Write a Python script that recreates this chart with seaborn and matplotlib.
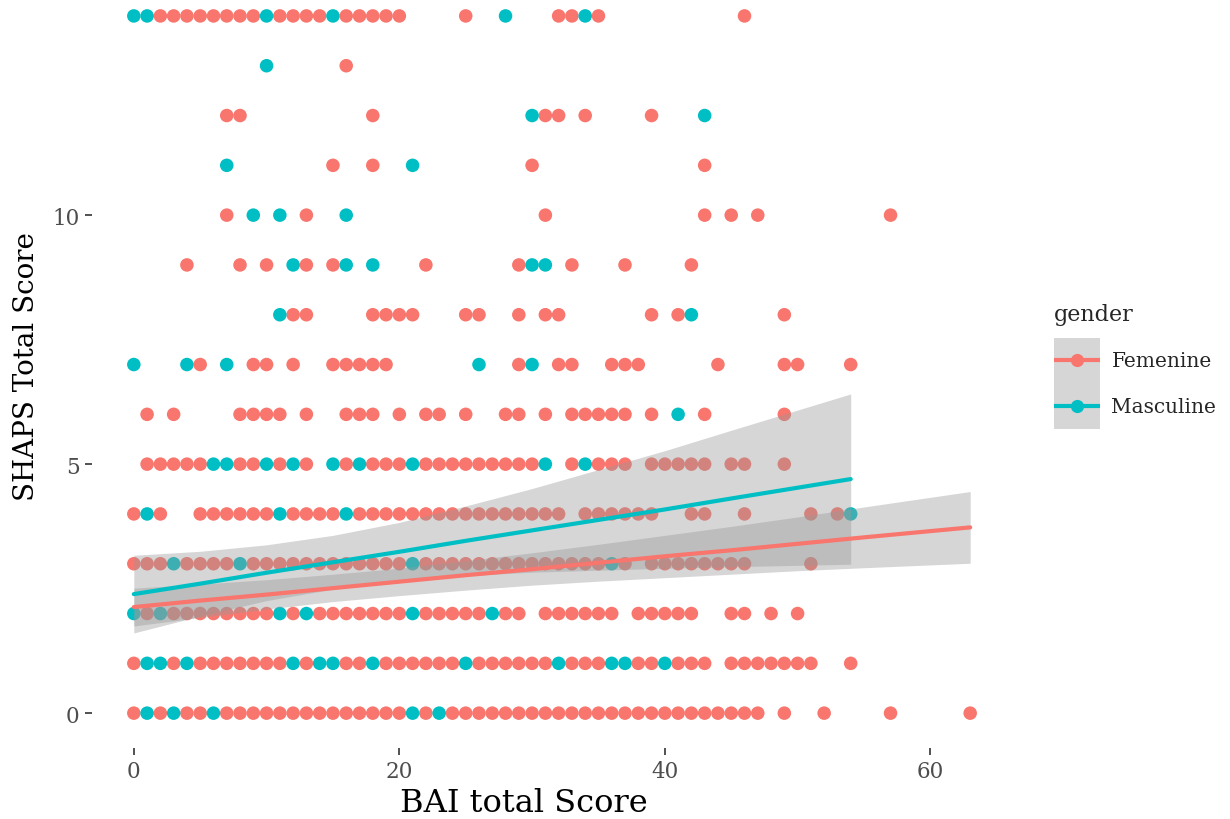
import matplotlib
matplotlib.use("Agg")
import matplotlib.pyplot as plt
import seaborn as sns
import pandas as pd
from matplotlib.lines import Line2D
from matplotlib.patches import Rectangle
from matplotlib.legend_handler import HandlerBase

# ---- data: BAI score (x) per SHAPS score row, by gender ----
F0 = [0, 2, 4, 5, 7, 8, 9, 10, 11, 12, 13, 14, 15, 16, 17, 18, 19, 20, 22, 24, 25, 26, 27, 28, 29, 30, 31, 32, 33, 34, 35, 36, 37, 38, 39, 40, 41, 42, 43, 44, 45, 46, 47, 49, 52, 57, 63]
M0 = [1, 3, 6, 21, 23]
F1 = [0, 3, 5, 6, 7, 8, 9, 10, 11, 13, 16, 17, 19, 20, 21, 22, 23, 24, 26, 27, 28, 29, 30, 31, 33, 34, 35, 38, 39, 41, 42, 43, 45, 46, 47, 48, 49, 50, 51, 54]
M1 = [1, 2, 4, 12, 14, 15, 18, 25, 32, 36, 37, 40]
F2 = [1, 3, 4, 5, 6, 7, 8, 9, 10, 12, 14, 15, 16, 17, 18, 19, 20, 22, 23, 24, 25, 26, 28, 29, 31, 32, 33, 34, 35, 36, 38, 39, 40, 41, 42, 45, 46, 48, 50]
M2 = [0, 2, 11, 13, 21, 27]
F3 = [0, 1, 2, 4, 5, 6, 7, 9, 10, 11, 12, 13, 14, 15, 16, 17, 18, 19, 20, 22, 23, 24, 25, 26, 27, 28, 29, 30, 31, 32, 33, 34, 35, 37, 39, 40, 41, 42, 43, 44, 45, 46, 51]
M3 = [3, 8, 21, 36]
F4 = [0, 2, 5, 6, 7, 8, 9, 10, 12, 13, 14, 15, 17, 18, 19, 20, 21, 22, 23, 24, 25, 26, 27, 28, 29, 30, 31, 32, 34, 35, 36, 37, 38, 39, 42, 43, 46, 51, 53]
M4 = [1, 11, 16, 54]
F5 = [1, 2, 3, 4, 5, 8, 9, 11, 13, 16, 18, 19, 20, 22, 23, 24, 25, 26, 27, 28, 29, 30, 33, 35, 36, 37, 39, 40, 41, 42, 43, 45, 46, 49]
M5 = [6, 7, 10, 12, 15, 17, 21, 31, 34]
F6 = [1, 3, 8, 9, 10, 11, 13, 16, 17, 18, 20, 22, 23, 25, 28, 29, 31, 33, 34, 35, 36, 37, 39, 43, 49]
M6 = [41]
F7 = [5, 9, 10, 12, 15, 16, 17, 18, 19, 29, 32, 33, 36, 37, 38, 44, 49, 50, 54]
M7 = [0, 4, 7, 26, 30]
F8 = [12, 13, 18, 19, 20, 21, 25, 26, 29, 31, 32, 39, 41, 49]
M8 = [11, 42]
F9 = [4, 8, 10, 13, 15, 22, 29, 33, 37, 42]
M9 = [12, 16, 18, 30, 31]
F10 = [7, 13, 31, 43, 45, 47, 57]
M10 = [9, 11, 16]
F11 = [15, 18, 30, 43]
M11 = [7, 21]
F12 = [7, 8, 18, 31, 32, 34, 39]
M12 = [30, 43]
F13 = [16]
M13 = [10]
F14 = [2, 3, 4, 5, 6, 7, 8, 9, 11, 12, 13, 14, 16, 17, 18, 19, 20, 25, 32, 33, 35, 46]
M14 = [0, 1, 10, 15, 28, 34]

FEM_ROWS = [F0, F1, F2, F3, F4, F5, F6, F7, F8, F9, F10, F11, F12, F13, F14]
MASC_ROWS = [M0, M1, M2, M3, M4, M5, M6, M7, M8, M9, M10, M11, M12, M13, M14]

# fitted lines and confidence bands
fem_fit_x = [0, 5, 10, 15, 20, 25, 30, 35, 40, 45, 50, 55, 63]
fem_fit_y = [2.13, 2.26, 2.38, 2.51, 2.64, 2.77, 2.89, 3.02, 3.15, 3.27, 3.40, 3.53, 3.73]
fem_lo = [1.75, 1.92, 2.09, 2.24, 2.36, 2.47, 2.57, 2.65, 2.72, 2.79, 2.86, 2.92, 3.01]
fem_hi = [2.51, 2.59, 2.68, 2.79, 2.91, 3.06, 3.22, 3.39, 3.57, 3.75, 3.94, 4.14, 4.45]
masc_fit_x = [0, 5, 10, 15, 20, 25, 30, 35, 40, 45, 54]
masc_fit_y = [2.39, 2.60, 2.82, 3.03, 3.24, 3.46, 3.67, 3.88, 4.09, 4.31, 4.70]
masc_lo = [1.61, 1.95, 2.26, 2.49, 2.65, 2.76, 2.83, 2.87, 2.91, 2.94, 2.99]
masc_hi = [3.17, 3.25, 3.38, 3.57, 3.83, 4.16, 4.51, 4.89, 5.27, 5.68, 6.41]

genders = ["Femenine", "Masculine"]
colors = ["#F8766D", "#00BFC4"]

rows = []
for g, table in zip(genders, [FEM_ROWS, MASC_ROWS]):
    for yv, xs in enumerate(table):
        for xv in xs:
            rows.append({"bai": xv, "shaps": yv, "gender": g})
df = pd.DataFrame(rows)

sns.set_theme(style="white")
plt.rcParams["font.family"] = ["DejaVu Serif"]

fig = plt.figure(figsize=(12.3, 8.2), dpi=100)
ax = fig.add_axes([92 / 1230, 1 - 749 / 820, 920 / 1230, 749 / 820])

sns.scatterplot(data=df, x="bai", y="shaps", hue="gender", hue_order=genders,
                palette=colors, s=95, linewidth=0, alpha=1, ax=ax, legend=False,
                zorder=2)

band_col = "#999999"
for fx, fy, lo, hi, c in [(fem_fit_x, fem_fit_y, fem_lo, fem_hi, colors[0]),
                          (masc_fit_x, masc_fit_y, masc_lo, masc_hi, colors[1])]:
    ax.fill_between(fx, lo, hi, color=band_col, alpha=0.4, linewidth=0, zorder=3)
    sns.lineplot(x=fx, y=fy, color=c, linewidth=3.0, ax=ax, zorder=4)

ax.set_xlim(-3.15, 66.15)
ax.set_ylim(-0.7, 14.34)
ax.set_xticks([0, 20, 40, 60])
ax.set_yticks([0, 5, 10])
for s in ax.spines.values():
    s.set_visible(False)
ax.grid(False)
ax.tick_params(axis="both", which="both", length=5, width=1.2, color="#333333",
               labelsize=15.5, labelcolor="#4d4d4d", pad=4, left=True, bottom=True)
ax.set_xlabel("BAI total Score", fontsize=23, color="black")
ax.set_ylabel("SHAPS Total Score", fontsize=20, color="black")
ax.xaxis.set_label_coords(0.4696, -0.052)
ax.yaxis.set_label_coords(-0.056, 0.51)


class KeyHandler(HandlerBase):
    def create_artists(self, legend, orig_handle, xdescent, ydescent, width,
                       height, fontsize, trans):
        x0, y0 = -xdescent, -ydescent
        rect = Rectangle((x0, y0), width, height, facecolor="#d6d6d6",
                         edgecolor="none", transform=trans)
        c = orig_handle.get_color()
        ln = Line2D([x0, x0 + width], [y0 + height / 2] * 2, color=c,
                    linewidth=3.0, solid_capstyle="butt", transform=trans)
        mk = Line2D([x0 + width / 2], [y0 + height / 2], color=c, marker="o",
                    markersize=9.5, markeredgewidth=0, linestyle="none",
                    transform=trans)
        return [rect, ln, mk]


handles = [Line2D([], [], color=c) for c in colors]
leg = fig.legend(handles, genders, handler_map={Line2D: KeyHandler()},
                 title="gender", loc="upper left",
                 bbox_to_anchor=(1054 / 1230, 1 - 304 / 820),
                 frameon=False, fontsize=14.5, title_fontsize=16,
                 handlelength=2.3, handleheight=3.1, labelspacing=0.0,
                 handletextpad=0.55, borderaxespad=0, borderpad=0)
leg._legend_box.align = "left"
leg._legend_box.sep = 9

fig.savefig("out.png", dpi=100)
